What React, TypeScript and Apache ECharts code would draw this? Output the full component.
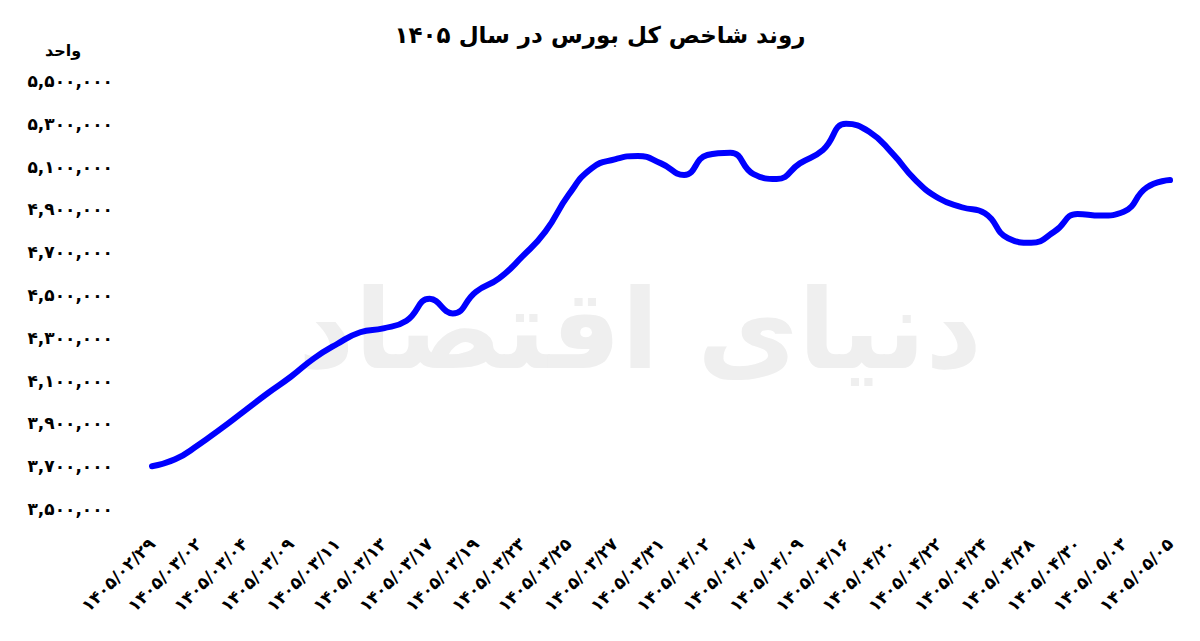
import React, { useEffect, useRef } from "react";
import * as echarts from "echarts";

const TITLE = "روند شاخص کل بورس در سال ۱۴۰۵";
const UNIT = "واحد";
const WATERMARK = "دنیای اقتصاد";

const dates = [
  "1405/02/29", "1405/02/30", "1405/03/02", "1405/03/03", "1405/03/04",
  "1405/03/05", "1405/03/09", "1405/03/10", "1405/03/11", "1405/03/12",
  "1405/03/13", "1405/03/16", "1405/03/17", "1405/03/18", "1405/03/19",
  "1405/03/20", "1405/03/23", "1405/03/24", "1405/03/25", "1405/03/26",
  "1405/03/27", "1405/03/30", "1405/03/31", "1405/04/01", "1405/04/02",
  "1405/04/06", "1405/04/07", "1405/04/08", "1405/04/09", "1405/04/13",
  "1405/04/16", "1405/04/17", "1405/04/20", "1405/04/21", "1405/04/22",
  "1405/04/23", "1405/04/24", "1405/04/27", "1405/04/28", "1405/04/29",
  "1405/04/30", "1405/05/01", "1405/05/03", "1405/05/04", "1405/05/05",
];

const indexValues = [
  3700000, 3732000, 3799000, 3877000, 3959000,
  4041000, 4118000, 4204000, 4271000, 4326000,
  4344000, 4380000, 4482000, 4414000, 4515000,
  4578000, 4679000, 4796000, 4967000, 5092000,
  5134000, 5150000, 5115000, 5061000, 5154000,
  5165000, 5065000, 5042000, 5115000, 5178000,
  5300000, 5263000, 5162000, 5037000, 4952000,
  4910000, 4882000, 4765000, 4744000, 4796000,
  4879000, 4871000, 4889000, 5003000, 5037000,
];

const yMin = 3500000;
const yMax = 5500000;
const yStep = 200000;

const toFa = (s: string) => s.replace(/\d/g, (d) => "۰۱۲۳۴۵۶۷۸۹"[Number(d)]);
const FONT = "DejaVu Sans";

export default function App() {
  const ref = useRef<HTMLDivElement>(null);
  useEffect(() => {
    if (!ref.current) return;
    const chart = echarts.init(ref.current, undefined, { renderer: "svg" });
    chart.setOption({
      animation: false,
      backgroundColor: "#ffffff",
      textStyle: { fontFamily: FONT },
      title: {
        text: TITLE,
        left: "center",
        top: 10,
        textStyle: { fontFamily: FONT, fontSize: 23, fontWeight: "bold", color: "#000" },
      },
      graphic: [
        {
          type: "text",
          z: 0,
          silent: true,
          x: 632,
          y: 322,
          style: {
            text: WATERMARK,
            fontFamily: FONT,
            fontSize: 110,
            fontWeight: "bold",
            fill: "#efefef",
            textAlign: "center",
            textVerticalAlign: "middle",
          },
        },
        {
          type: "text",
          x: 37,
          y: 34,
          style: { text: UNIT, fontFamily: FONT, fontSize: 16, fontWeight: "bold", fill: "#000" },
        },
      ],
      grid: { left: 144, right: 22, top: 73, bottom: 124, containLabel: false },
      xAxis: {
        type: "category",
        data: dates,
        boundaryGap: false,
        axisLine: { show: false },
        axisTick: { show: false },
        splitLine: { show: false },
        axisLabel: {
          interval: 1,
          rotate: 45,
          margin: 32,
          fontSize: 17,
          fontWeight: "bold",
          fontFamily: FONT,
          color: "#000",
          formatter: (v: string) => toFa(v),
        },
      },
      yAxis: {
        type: "value",
        min: yMin,
        max: yMax,
        interval: yStep,
        axisLine: { show: false },
        axisTick: { show: false },
        splitLine: { show: false },
        axisLabel: {
          margin: 39,
          fontSize: 17,
          fontWeight: "bold",
          fontFamily: FONT,
          color: "#000",
          formatter: (v: number) => toFa(v.toString().replace(/\B(?=(\d{3})+(?!\d))/g, ",")),
        },
      },
      series: [
        {
          type: "line",
          data: indexValues,
          smooth: true,
          showSymbol: false,
          symbol: "none",
          z: 5,
          lineStyle: { color: "#0000ff", width: 6, cap: "round", join: "round" },
        },
      ],
    });
    return () => chart.dispose();
  }, []);
  return <div ref={ref} style={{ width: 1184, height: 625 }} />;
}
